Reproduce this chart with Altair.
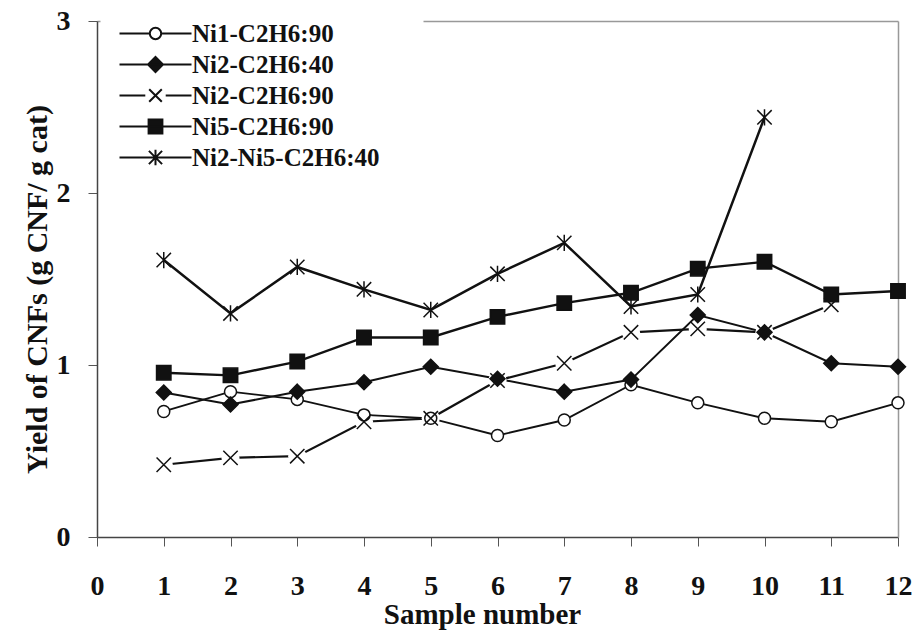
import altair as alt
import pandas as pd

# ---------------- data ----------------
series = ["Ni1-C2H6:90", "Ni2-C2H6:40", "Ni2-C2H6:90", "Ni5-C2H6:90", "Ni2-Ni5-C2H6:40"]
samples = [1, 2, 3, 4, 5, 6, 7, 8, 9, 10, 11, 12]
ni1_c2h6_90 = [0.73, 0.845, 0.80, 0.71, 0.69, 0.59, 0.68, 0.885, 0.78, 0.69, 0.67, 0.78]
ni2_c2h6_40 = [0.84, 0.77, 0.845, 0.90, 0.99, 0.92, 0.845, 0.915, 1.29, 1.19, 1.01, 0.99]
ni2_c2h6_90 = [0.42, 0.46, 0.47, 0.67, 0.69, 0.91, 1.01, 1.19, 1.21, 1.19, 1.35, None]
ni5_c2h6_90 = [0.955, 0.94, 1.02, 1.16, 1.16, 1.28, 1.36, 1.42, 1.56, 1.60, 1.41, 1.43]
ni2_ni5_c2h6_40 = [1.61, 1.30, 1.57, 1.44, 1.32, 1.53, 1.71, 1.34, 1.41, 2.44, None, None]
x_ticks = [0, 1, 2, 3, 4, 5, 6, 7, 8, 9, 10, 11, 12]
y_ticks = [0, 1, 2, 3]

values = [ni1_c2h6_90, ni2_c2h6_40, ni2_c2h6_90, ni5_c2h6_90, ni2_ni5_c2h6_40]
rows = []
for name, vals in zip(series, values):
    for s, v in zip(samples, vals):
        if v is not None:
            rows.append({"series": name, "sample": s, "yield": v})
df = pd.DataFrame(rows)

# ---------------- styles ----------------
FONT = "Liberation Serif"
marker_paths = [
    "M-1,0A1,1 0 1,1 1,0A1,1 0 1,1 -1,0Z",
    "M0,-1.25L1.25,0L0,1.25L-1.25,0Z",
    "M-1.2,-1.2L1.2,1.2M-1.2,1.2L1.2,-1.2",
    "M-1.2,-1.2H1.2V1.2H-1.2Z",
    "M-1.2,-1.2L1.2,1.2M-1.2,1.2L1.2,-1.2M0,-1.35V1.35",
]
legend_paths = [
    "M-6,0H-0.95M0.95,0H6M-0.95,0A0.95,0.95 0 1,1 0.95,0A0.95,0.95 0 1,1 -0.95,0Z",
    "M-6,0H6M0,-1.25L1.25,0L0,1.25L-1.25,0Z",
    "M-6,0H-1.7M1.7,0H6M-1.05,-1.05L1.05,1.05M-1.05,1.05L1.05,-1.05",
    "M-6,0H6M-1.15,-1.15H1.15V1.15H-1.15Z",
    "M-6,0H6M-1.1,-1.1L1.1,1.1M-1.1,1.1L1.1,-1.1M0,-1.3V1.3",
]
fills = ["white", "#111", "transparent", "#111", "transparent"]
strokes = ["#111", "#111", "#111", "#111", "#111"]
line_widths = [1.9, 2.5, 1.7, 2.5, 1.9]
marker_widths = [1.5, 1.5, 1.7, 1.5, 2.2]

scale_x = alt.Scale(domain=[0, 12], nice=False, zero=False)
scale_y = alt.Scale(domain=[0, 3], nice=False)

x_main = alt.X(
    "sample:Q", scale=scale_x,
    axis=alt.Axis(
        values=x_ticks, title="Sample number", format="d", labelFlush=False,
        labelFontSize=28, labelPadding=26, tickSize=9,
        titleFontSize=29, titleX=385, titleY=86, titleBaseline="alphabetic",
        titleAnchor="middle", titleAlign="center",
    ),
)
y_main = alt.Y(
    "yield:Q", scale=scale_y,
    axis=alt.Axis(
        values=y_ticks, title="Yield of CNFs (g CNF/ g cat)", format="d", labelFlush=False,
        labelFontSize=28, labelPadding=18, tickSize=9,
        titleFontSize=30, titleX=-51, titleY=268, titleAngle=270,
        titleBaseline="alphabetic", titleAlign="center", titleAnchor="middle",
    ),
)
# frame lines (top and right) drawn as domain-only axes
x_top = alt.X(
    "sample:Q", scale=scale_x,
    axis=alt.Axis(orient="top", labels=False, ticks=False, title=None,
                  domainColor="#999", domainWidth=1.5),
)
y_right = alt.Y(
    "yield:Q", scale=scale_y,
    axis=alt.Axis(orient="right", labels=False, ticks=False, title=None,
                  domainColor="#999", domainWidth=1.5),
)
x_plain = alt.X("sample:Q", scale=scale_x, axis=None)
y_plain = alt.Y("yield:Q", scale=scale_y, axis=None)

base = alt.Chart(df)

lines = base.mark_line(color="#111", opacity=1).encode(
    x=x_main, y=y_main, detail="series:N",
    strokeWidth=alt.StrokeWidth("series:N", scale=alt.Scale(domain=series, range=line_widths), legend=None),
)

halo = base.transform_filter(alt.datum.series == "Ni2-C2H6:90").mark_point(
    shape="circle", filled=True, color="white", opacity=1, size=330, strokeWidth=0
).encode(x=x_top, y=y_right)

markers = base.mark_point(filled=True, stroke="#111", opacity=1, size=144).encode(
    x=x_plain, y=y_plain,
    shape=alt.Shape("series:N", scale=alt.Scale(domain=series, range=marker_paths), legend=None),
    fill=alt.Fill("series:N", scale=alt.Scale(domain=series, range=fills), legend=None),
    strokeWidth=alt.StrokeWidth("series:N", scale=alt.Scale(domain=series, range=marker_widths), legend=None),
)

legend_cfg = dict(
    title=None, orient="none", legendX=3, legendY=-43, padding=43,
    fillColor="white", strokeColor="transparent",
    labelFont=FONT, labelFontSize=25, labelFontWeight="bold", labelColor="#111",
    labelOffset=24, symbolSize=144, symbolStrokeWidth=2, symbolStrokeColor="#111",
    rowPadding=5, labelLimit=400,
    labelExpr="datum.label + '\u00a0\u00a0\u00a0\u00a0'",
)

legend_layer = base.transform_filter("false").mark_point(
    filled=True, opacity=1, size=144, strokeWidth=2
).encode(
    x=x_plain, y=y_plain,
    shape=alt.Shape("series:N", scale=alt.Scale(domain=series, range=legend_paths),
                    legend=alt.Legend(**legend_cfg)),
    fill=alt.Fill("series:N", scale=alt.Scale(domain=series, range=fills),
                  legend=alt.Legend(**legend_cfg)),
    stroke=alt.Stroke("series:N", scale=alt.Scale(domain=series, range=strokes),
                      legend=alt.Legend(**legend_cfg)),
)

chart = (
    alt.layer(lines, halo, markers, legend_layer)
    .resolve_scale(shape="independent", fill="independent", strokeWidth="independent",
                   stroke="independent")
    .resolve_axis(x="independent", y="independent")
    .properties(
        width=801, height=516,
        autosize=alt.AutoSizeParams(type="none"),
        padding={"left": 97, "top": 21, "right": 17, "bottom": 93},
        background="white",
    )
    .configure_view(strokeWidth=0)
    .configure_axis(
        grid=False, domainColor="#444", domainWidth=1.5, tickColor="#555", tickWidth=1,
        labelFont=FONT, labelFontWeight="bold", labelColor="#111",
        titleFont=FONT, titleFontWeight="bold", titleColor="#111",
    )
)

chart.save("out.html", embed_options={"renderer": "svg", "actions": False})
